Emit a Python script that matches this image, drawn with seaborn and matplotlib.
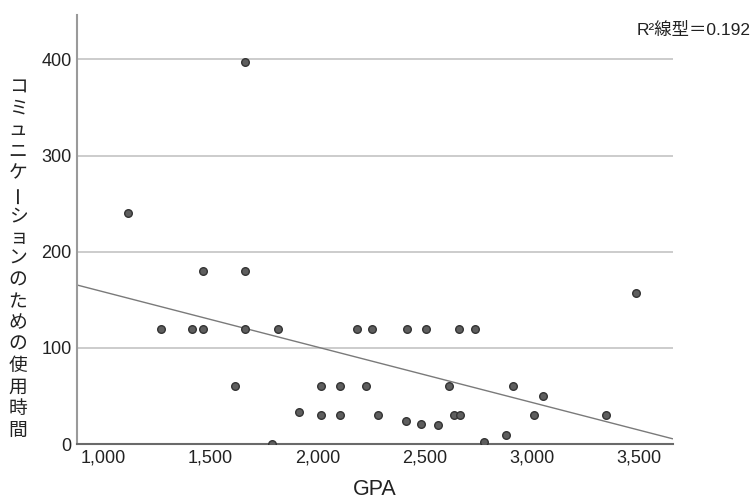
import numpy as np
import pandas as pd
import matplotlib
matplotlib.use("Agg")
import matplotlib.pyplot as plt
import seaborn as sns
from matplotlib.ticker import FuncFormatter

# values
gpa = [1115, 1661, 1269, 1414, 1465, 1465, 1661, 1661, 1614, 1815, 1787,
       1914, 2017, 2017, 2105, 2105, 2227, 2185, 2255, 2283, 2418, 2507,
       2661, 2736, 3488, 2614, 2913, 3054, 3012, 3348, 2640, 2665, 2413,
       2484, 2563, 2778, 2881]
comm_time = [240, 397, 120, 120, 120, 180, 180, 120, 60, 120, 0,
             33, 30, 60, 60, 30, 60, 120, 120, 30, 120, 120,
             120, 120, 157, 60, 60, 50, 30, 30, 30, 30, 24,
             21, 20, 2, 10]
y_ticks = [0, 100, 200, 300, 400]
x_ticks = [1000, 1500, 2000, 2500, 3000, 3500]
y_label = "コミュニケーションのための使用時間"
x_label = "GPA"
r2_text = "R²線型＝0.192"

df = pd.DataFrame({"GPA": gpa, "time": comm_time})

sns.set_style("white")
plt.rcParams["font.family"] = ["Liberation Sans", "Noto Sans CJK JP", "DejaVu Sans"]

fig = plt.figure(figsize=(7.55, 5.03), dpi=100)
ax = fig.add_axes([0.102, 0.117, 0.789, 0.853])

ax.set_xlim(876, 3660)
ax.set_ylim(0, 446)
ax.set_yticks(y_ticks)
ax.set_xticks(x_ticks)
ax.yaxis.grid(True, color="#c4c4c4", linewidth=1.2)
ax.set_axisbelow(True)

sns.regplot(data=df, x="GPA", y="time", scatter=False, ci=None,
            truncate=False, ax=ax, line_kws={"color": "#7a7a7a", "linewidth": 1.0})
sns.scatterplot(data=df, x="GPA", y="time", ax=ax, s=30, color="#5e5e5e",
                edgecolor="#333333", linewidth=1.0, zorder=3)

ax.xaxis.set_major_formatter(FuncFormatter(lambda v, p: f"{int(v):,}"))
ax.tick_params(axis="both", length=0, labelsize=13, colors="#222222", pad=4)
for s in ["top", "right"]:
    ax.spines[s].set_visible(False)
ax.spines["left"].set_color("#9a9a9a")
ax.spines["left"].set_linewidth(1.5)
ax.spines["bottom"].set_color("#6a6a6a")
ax.spines["bottom"].set_linewidth(1.5)

ax.set_xlabel(x_label, fontsize=15.5, color="#222222", labelpad=9)
ax.set_ylabel("")

# vertical Japanese label, one character at a time
top_px, bottom_px = 87, 430
step = (bottom_px - top_px) / (len(y_label) - 1)
for i, ch in enumerate(y_label):
    ypx = top_px + i * step
    rot = 90 if ch == "ー" else 0
    fig.text(18 / 755, 1 - ypx / 503, ch, fontsize=13.5, ha="center", va="center",
             rotation=rot, color="#222222",
             family=["Noto Sans CJK JP", "DejaVu Sans"])

fig.text(0.994, 1 - 30 / 503, r2_text, fontsize=12.5, ha="right", va="center",
         color="#222222")

fig.savefig("out.png", dpi=100)
